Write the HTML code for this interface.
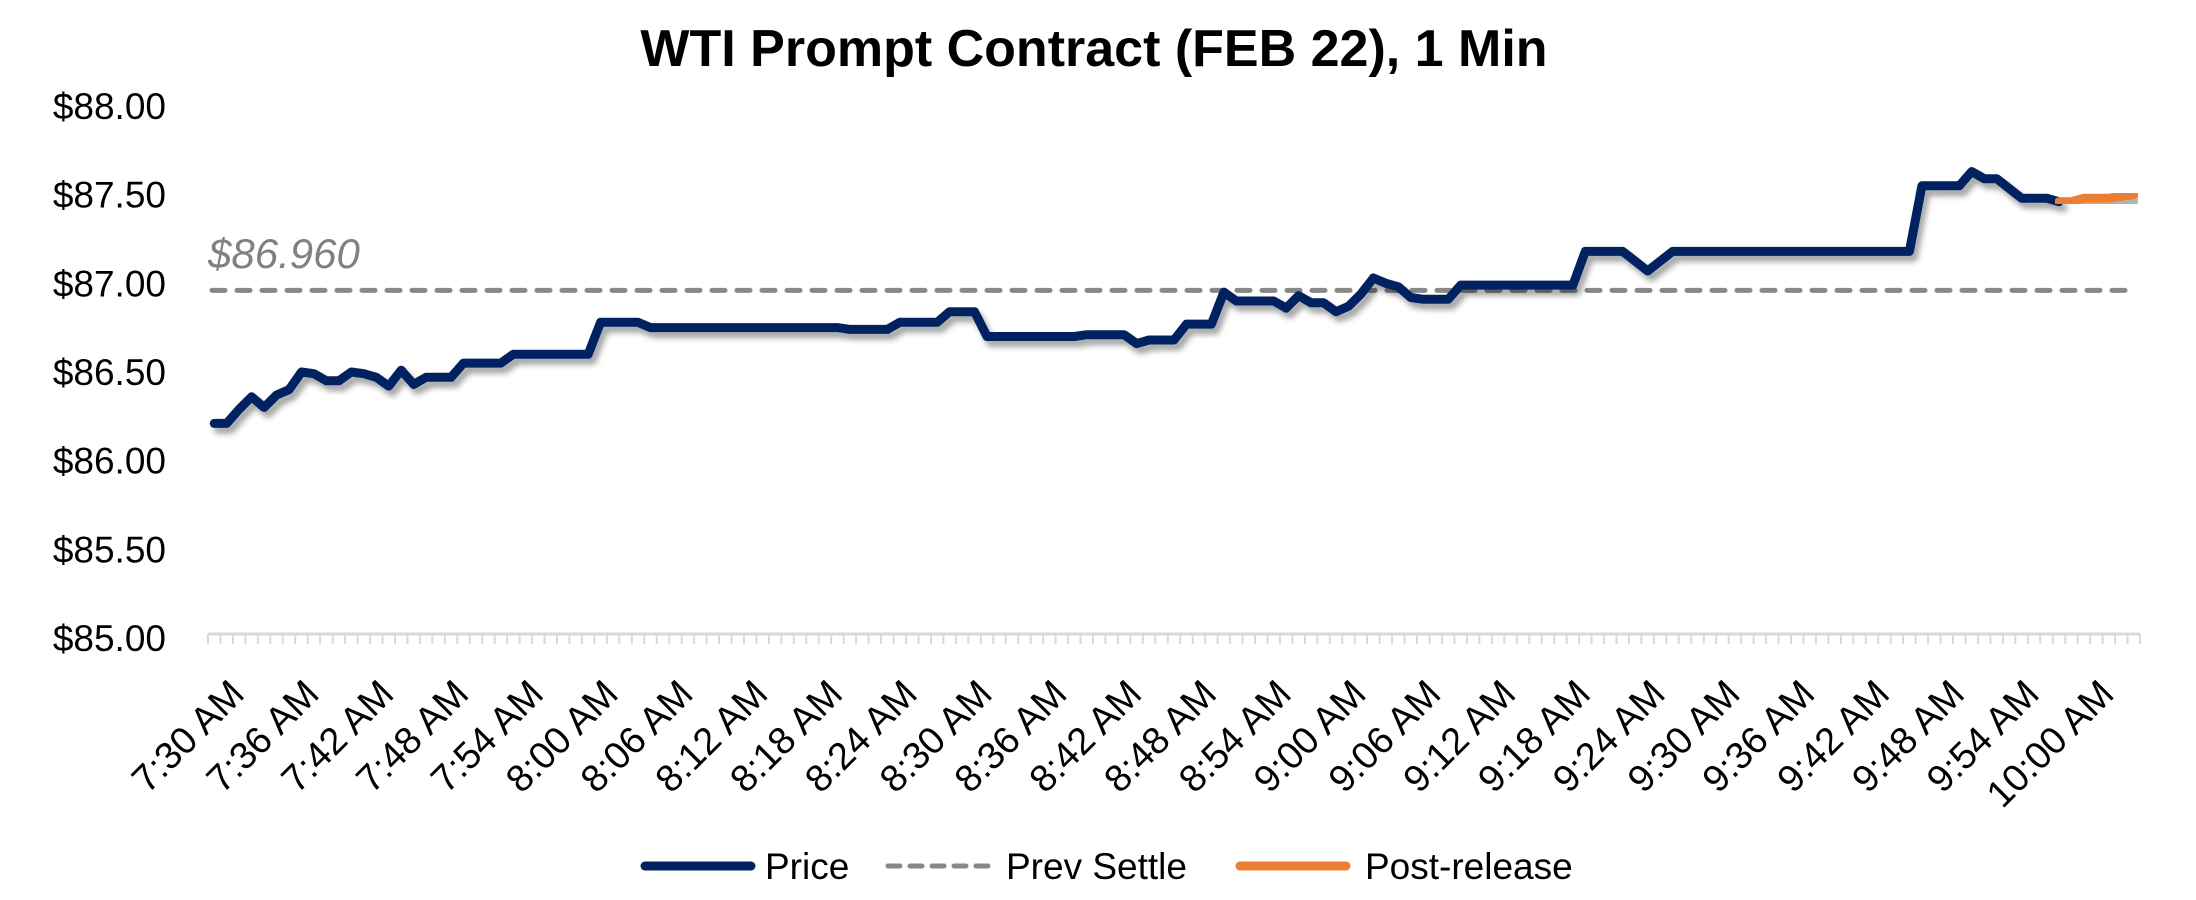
<!DOCTYPE html>
<html><head><meta charset="utf-8"><style>
html,body{margin:0;padding:0;background:#fff;width:2196px;height:900px;overflow:hidden}
svg text{font-family:"Liberation Sans",sans-serif}
</style></head><body>
<svg id="s" width="2196" height="900" xmlns="http://www.w3.org/2000/svg">
<defs><filter id="sh" x="-5%" y="-20%" width="110%" height="150%"><feDropShadow dx="4" dy="6" stdDeviation="3" flood-color="#000" flood-opacity="0.35"/></filter></defs>
<text x="1094" y="66" text-anchor="middle" font-size="52" font-weight="bold" fill="#000">WTI Prompt Contract (FEB 22), 1 Min</text>
<g id="g"></g>
</svg>
<script>
var g=document.getElementById('g'),NS='http://www.w3.org/2000/svg';
function el(t,a,txt){var e=document.createElementNS(NS,t);for(var k in a)e.setAttribute(k,a[k]);if(txt)e.textContent=txt;g.appendChild(e);return e;}
var x0=208,x1=2140,N=155,w=(x1-x0)/N;
function X(i){return x0+(i+0.5)*w}
function Y(v){return 106+(88-v)*177.3}
[88,87.5,87,86.5,86,85.5,85].forEach(function(v){el('text',{x:166,y:Y(v)+13,'text-anchor':'end','font-size':37,fill:'#000'},'$'+v.toFixed(2));});
el('line',{x1:x0,y1:634,x2:x1,y2:634,stroke:'#d9d9d9','stroke-width':3});
for(var i=0;i<=N;i++){var xx=x0+i*w;el('line',{x1:xx,y1:634,x2:xx,y2:644,stroke:'#d9d9d9','stroke-width':2});}
for(var i=0;i<N;i+=6){var m=30+i,h=7+Math.floor(m/60),mm=m%60;var s=h+':'+(mm<10?'0':'')+mm+' AM';
var ax=X(i)+32,ay=696;
el('text',{x:ax,y:ay,'text-anchor':'end','font-size':38,fill:'#000',transform:'rotate(-45 '+ax+' '+ay+')'},s);}
var pts=[[0,86.21],[1,86.21],[2,86.29],[3,86.36],[4,86.30],[5,86.37],[6,86.40],[7,86.50],[8,86.49],[9,86.45],[10,86.45],[11,86.50],[12,86.49],[13,86.47],[14,86.42],[15,86.51],[16,86.43],[17,86.47],[19,86.47],[20,86.55],[23,86.55],[24,86.60],[30,86.60],[31,86.78],[34,86.78],[35,86.75],[50,86.75],[51,86.74],[54,86.74],[55,86.78],[58,86.78],[59,86.84],[61,86.84],[62,86.70],[69,86.70],[70,86.71],[73,86.71],[74,86.66],[75,86.68],[77,86.68],[78,86.77],[80,86.77],[81,86.95],[82,86.90],[85,86.90],[86,86.86],[87,86.93],[88,86.89],[89,86.89],[90,86.84],[91,86.87],[92,86.94],[93,87.03],[94,87.00],[95,86.98],[96,86.92],[97,86.91],[99,86.91],[100,86.99],[109,86.99],[110,87.18],[113,87.18],[115,87.07],[117,87.18],[136,87.18],[137,87.55],[140,87.55],[141,87.63],[142,87.59],[143,87.59],[145,87.48],[147,87.48],[148,87.46]];
var orange=[[148,87.46],[149,87.46],[150,87.48],[151,87.48],[152,87.48],[153,87.49],[154,87.50]];
function P(a){return a.map(function(p){return X(p[0]).toFixed(1)+','+Y(p[1]).toFixed(1)}).join(' ')}
el('line',{x1:x0+4,y1:Y(86.96),x2:x1-8,y2:Y(86.96),stroke:'#888','stroke-width':5,'stroke-dasharray':'13 12','stroke-linecap':'round'});
el('text',{x:208,y:268,'font-size':42,'font-style':'italic',fill:'#808080'},'$86.960');
el('polyline',{points:P(pts),fill:'none',stroke:'#002060','stroke-width':9,'stroke-linejoin':'round','stroke-linecap':'round',filter:'url(#sh)'});
el('polyline',{points:P(orange),fill:'none',stroke:'#ED7D31','stroke-width':9,'stroke-linejoin':'round','stroke-linecap':'round',filter:'url(#sh)'});
var ly=866;
el('line',{x1:645,y1:ly,x2:751,y2:ly,stroke:'#002060','stroke-width':9,'stroke-linecap':'round'});
el('text',{x:765,y:ly+13,'font-size':37,fill:'#000'},'Price');
el('line',{x1:888,y1:ly,x2:992,y2:ly,stroke:'#888','stroke-width':5,'stroke-dasharray':'12 10','stroke-linecap':'round'});
el('text',{x:1006,y:ly+13,'font-size':37,fill:'#000'},'Prev Settle');
el('line',{x1:1240,y1:ly,x2:1346,y2:ly,stroke:'#ED7D31','stroke-width':9,'stroke-linecap':'round'});
el('text',{x:1365,y:ly+13,'font-size':37,fill:'#000'},'Post-release');
</script>
</body></html>
